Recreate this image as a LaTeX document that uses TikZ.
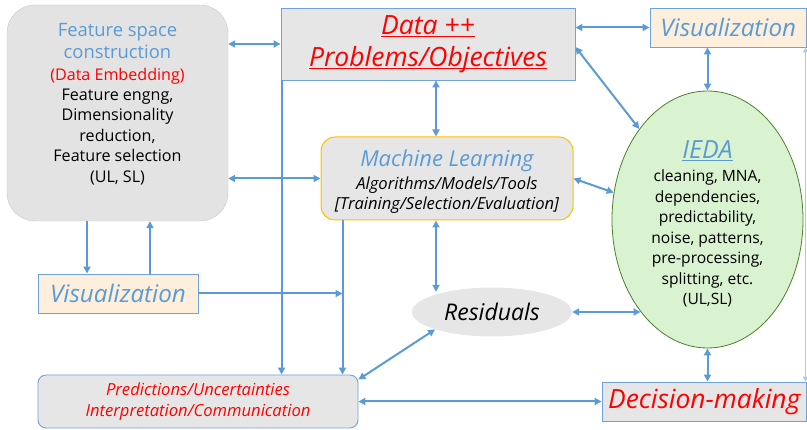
\documentclass[tikz,border=0pt]{standalone}
\usepackage{fontspec}
\setmainfont{Open Sans}
\usetikzlibrary{arrows.meta,shapes.geometric}
\definecolor{lblue}{HTML}{5B9BD5}
\definecolor{tblue}{HTML}{5B9BD5}
\definecolor{boxgray}{HTML}{E7E6E6}
\definecolor{fsgray}{HTML}{E3E3E3}
\definecolor{fsedge}{HTML}{C9C9C9}
\definecolor{vfill}{HTML}{FDEFDB}
\definecolor{goldedge}{HTML}{FFC000}
\definecolor{gfill}{HTML}{D9F2D0}
\definecolor{gedge}{HTML}{4E7F2F}
\definecolor{bedge}{HTML}{6FA3DA}
\definecolor{faint}{HTML}{A9CBEA}
\definecolor{myred}{HTML}{FF0000}
\newcommand\myul[1]{\setbox0\hbox{#1}\rlap{\rule[-2.6pt]{\wd0}{1pt}}\box0}
\begin{document}
\begin{tikzpicture}[x=1pt,y=-1pt, >={Triangle[length=7pt,width=7pt]},
  conn/.style={draw=lblue,line width=2pt},
  faintconn/.style={draw=faint,line width=1pt,>={Triangle[length=5pt,width=5pt]}},
  sqbox/.style={draw=bedge,fill=boxgray,line width=0.9pt,inner sep=0},
  vizbox/.style={draw=bedge,fill=vfill,line width=0.9pt,inner sep=0,minimum height=39pt,
    text=tblue,font=\itshape\fontsize{24.2}{28}\selectfont}]
\useasboundingbox (0,0) rectangle (807,430);

% Feature space construction
\node[draw=fsedge, fill=fsgray, rounded corners=28pt, minimum width=221pt, minimum height=216pt, inner sep=0] (fs) at (117.5,113) {};
\node[align=center, inner sep=0, font=\fontsize{16.1}{20.4}\selectfont] (fstext) at (117.5,104)
 {{\color{tblue}\fontsize{18.4}{20}\selectfont Feature space}\\[2pt]{\color{tblue}\fontsize{18.4}{20}\selectfont construction}\\[1pt]{\color{myred}(Data Embedding)}\\Feature engng,\\Dimensionality\\reduction,\\Feature selection\\(UL, SL)};

% Data ++
\node[sqbox, minimum width=294pt, minimum height=72pt, align=center, font=\itshape\fontsize{26.5}{32}\selectfont, text=myred] (d) at (428,44)
 {\myul{Data ++}\\\myul{Problems/Objectives}};

% Visualization (top right)
\node[vizbox, minimum width=156.5pt] (v1) at (728.25,27.5) {Visualization};

% Machine Learning
\node[draw=goldedge, fill=boxgray, line width=1pt, rounded corners=14pt, minimum width=252pt, minimum height=83pt, inner sep=0, align=center, font=\itshape\fontsize{16.6}{20}\selectfont] (ml) at (447,178.5)
 {\rule{0pt}{22pt}{\color{tblue}\fontsize{22}{24}\selectfont Machine Learning}\\[3pt]Algorithms/Models/Tools\\{[}Training/Selection/Evaluation{]}};

% IEDA
\node[ellipse, draw=gedge, fill=gfill, line width=0.8pt, minimum width=191pt, minimum height=257pt, inner sep=0, align=center, font=\fontsize{15.6}{20.5}\selectfont] (ieda) at (707.5,219.5)
 {\rule{0pt}{26pt}{\color{tblue}\itshape\fontsize{25}{26}\selectfont\myul{IEDA}}\\[3pt]cleaning, MNA,\\dependencies,\\predictability,\\noise, patterns,\\pre-processing,\\splitting, etc.\\(UL,SL)};

% Residuals
\node[ellipse, fill=boxgray, minimum width=160pt, minimum height=49pt, inner sep=0, font=\itshape\fontsize{23}{26}\selectfont] (res) at (492,312) {Residuals};

% Visualization (left)
\node[vizbox, minimum width=160pt] (v2) at (118,293.5) {Visualization};

% Predictions
\node[draw=bedge, fill=boxgray, line width=0.9pt, rounded corners=8pt, minimum width=320pt, minimum height=53pt, inner sep=0, align=center, font=\itshape\fontsize{16.6}{21}\selectfont, text=myred] (p) at (198,401.5)
 {Predictions/Uncertainties\\Interpretation/Communication};

% Decision-making
\node[sqbox, minimum width=204.5pt, minimum height=39pt, font=\itshape\fontsize{26.4}{28}\selectfont, text=myred] (dm) at (704.25,401.5) {Decision-making};

% connectors
\coordinate (mlx) at ([xshift=22pt]ml.south west);
\coordinate (resn) at ([yshift=-4.5pt]res.north);
\draw[conn,<->] (fs.east |- d.west) -- (d.west);
\draw[conn,<->] (fs.east |- ml.west) -- (ml.west);
\draw[conn,->] ([xshift=1pt]d.south west) -- ([xshift=1pt]d.south west |- p.north);
\draw[conn,<->] ([xshift=8pt]d.south) -- ([xshift=8pt]d.south |- ml.north);
\draw[conn,<->] ([xshift=-11pt]ml.south) -- ([xshift=-11pt]ml.south |- resn);
\draw[conn,->] (mlx) -- (mlx |- p.north);
\draw[conn,->] (v2.east) -- (v2.east -| mlx);
\draw[conn,->] ([xshift=-30.5pt]fs.south) -- ([xshift=-30.5pt]fs.south |- v2.north);
\draw[conn,->] ([xshift=32.5pt]fs.south |- v2.north) -- ([xshift=32.5pt]fs.south);
\draw[conn,<->] (res.197) -- ([yshift=-5pt]p.north east);
\draw[conn,<->] (res.east) -- (res.east -| ieda.234);
\draw[conn,<->] (p.east |- dm.west) -- (dm.west);
\draw[conn,<->] (ieda.south) -- (ieda.south |- dm.north);
\draw[conn,<->] (ieda.north |- v1.south) -- (ieda.north);
\draw[conn,<->] (d.east |- v1.west) -- (v1.west);
\draw[conn,<->] ([yshift=-3pt]d.east) -- (ieda.127);
\draw[conn,<->] (ml.east) -- (ieda.164);
\draw[faintconn,<->] ([xshift=-1.5pt]v1.south east) -- ([xshift=-1.5pt]v1.south east |- dm.north);
\end{tikzpicture}
\end{document}
